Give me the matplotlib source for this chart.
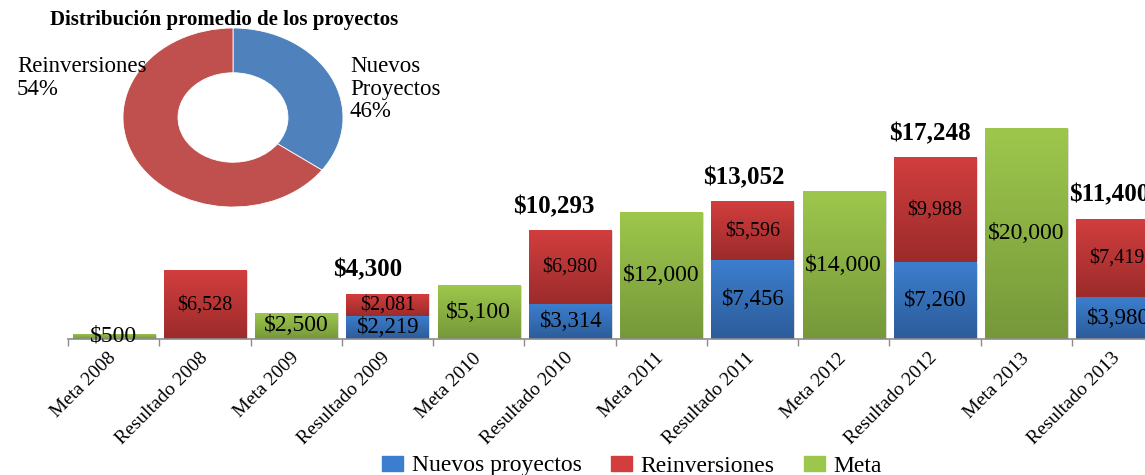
import matplotlib.pyplot as plt
import numpy as np
from matplotlib.colors import LinearSegmentedColormap
from matplotlib.patches import Rectangle

# categories and values
categories = ["Meta 2008", "Resultado 2008", "Meta 2009", "Resultado 2009",
              "Meta 2010", "Resultado 2010", "Meta 2011", "Resultado 2011",
              "Meta 2012", "Resultado 2012", "Meta 2013", "Resultado 2013"]
nuevos = [0, 0, 0, 2219, 0, 3314, 0, 7456, 0, 7260, 0, 3980]
reinversiones = [0, 6528, 0, 2081, 0, 6980, 0, 5596, 0, 9988, 0, 7419]
meta = [500, 0, 2500, 0, 5100, 0, 12000, 0, 14000, 0, 20000, 0]
totales = [None, None, None, 4300, None, 10293, None, 13052, None, 17248, None, 11400]

donut_names = ["Nuevos\nProyectos", "Reinversiones"]
donut_shares = [35, 65]          # drawn wedge sizes
donut_pct = ["46%", "54%"]       # printed labels

plt.rcParams['font.family'] = ['Liberation Serif', 'DejaVu Serif']

W, H = 1145, 475
fig = plt.figure(figsize=(W / 100, H / 100), dpi=100)

def px_axes(x0, y0, x1, y1):
    # pixel box (top-left origin) -> figure axes
    return fig.add_axes([x0 / W, 1 - y1 / H, (x1 - x0) / W, (y1 - y0) / H])

ymax = 22000
ax = px_axes(68, 339 - 0.01055 * ymax, 1163, 339)

grad = {
    'blue': ('#2C5C9A', '#3C7ECE'),
    'red': ('#9C2B2B', '#D23E3E'),
    'green': ('#76983A', '#9DC74C'),
}

x = np.arange(len(categories)) + 0.5
w = 0.9

def gradient_bars(bars, key):
    cmap = LinearSegmentedColormap.from_list(key, grad[key])
    img = np.linspace(0, 1, 64).reshape(-1, 1)
    for b in bars:
        if b.get_height() <= 0:
            continue
        bx, by = b.get_x(), b.get_y()
        bw, bh = b.get_width(), b.get_height()
        # soft shadow on the right
        ax.add_patch(Rectangle((bx + 0.02, by), bw, bh - 80, color='#dcdcdc',
                               zorder=1, lw=0))
        im = ax.imshow(img, cmap=cmap, origin='lower', aspect='auto',
                       extent=(bx, bx + bw, by, by + bh), zorder=2,
                       interpolation='bilinear')
        im.set_clip_path(b)

b_meta = ax.bar(x, meta, w, color=grad['green'][1], zorder=2, lw=0)
b_nue = ax.bar(x, nuevos, w, color=grad['blue'][1], zorder=2, lw=0)
b_rei = ax.bar(x, reinversiones, w, bottom=nuevos, color=grad['red'][1],
               zorder=2, lw=0)
gradient_bars(b_meta, 'green')
gradient_bars(b_nue, 'blue')
gradient_bars(b_rei, 'red')

for i in range(len(categories)):
    if meta[i]:
        ax.text(x[i], meta[i] / 2, f"${meta[i]:,}", ha='center', va='center',
                fontsize=17, zorder=5)
    if nuevos[i]:
        ax.text(x[i], nuevos[i] / 2, f"${nuevos[i]:,}", ha='center',
                va='center', fontsize=16.5, zorder=5)
    if reinversiones[i]:
        ax.text(x[i], nuevos[i] + reinversiones[i] / 2, f"${reinversiones[i]:,}",
                ha='center', va='center', fontsize=14.5, zorder=5)

# totals above the result bars (slightly left of centre as in original)
dx_px = [0, 0, 0, -20, 0, -16, 0, -9, 0, -5, 0, -8]
for i, t in enumerate(totales):
    if t is None:
        continue
    ax.annotate(f"${t:,}", (x[i], nuevos[i] + reinversiones[i]),
                xytext=(dx_px[i] * 0.72, 17), textcoords='offset points',
                ha='center', va='center', fontsize=18, fontweight='bold')

ax.set_xlim(0, len(categories))
ax.set_ylim(0, ymax)
for s in ['top', 'right', 'left']:
    ax.spines[s].set_visible(False)
ax.spines['bottom'].set_color('#8c8c8c')
ax.spines['bottom'].set_linewidth(1.2)
ax.set_yticks([])
ax.set_xticks(np.arange(len(categories) + 1))
ax.set_xticklabels([])
ax.tick_params(axis='x', length=5, color='#8c8c8c', width=1)
ax.set_xticks(x, minor=True)
ax.set_xticklabels(categories, minor=True, rotation=45, ha='right',
                   va='center', rotation_mode='anchor', fontsize=14)
ax.tick_params(axis='x', which='minor', length=0, pad=12)
ax.patch.set_visible(False)

# legend
handles = [Rectangle((0, 0), 1, 1, color=grad[k][1]) for k in ['blue', 'red', 'green']]
fig.legend(handles, ["Nuevos proyectos", "Reinversiones", "Meta"],
           loc='center', bbox_to_anchor=(632 / W, 1 - 466 / H), ncol=3,
           frameon=False, fontsize=17, handlelength=0.9, handleheight=0.6,
           handletextpad=0.35, columnspacing=1.25)

# donut
axd = px_axes(123, 28, 343, 207)
axd.pie(donut_shares, colors=['#4F81BD', '#C0504D'], startangle=90,
        counterclock=False, radius=1,
        wedgeprops=dict(width=0.5, edgecolor='white', linewidth=0.6))
axd.set_aspect('auto')
axd.set_xlim(-1, 1)
axd.set_ylim(-1, 1)

fig.text(50 / W, 1 - 20 / H, "Distribución promedio de los proyectos",
         fontsize=15, fontweight='bold', ha='left', va='center')
fig.text(17 / W, 1 - 56 / H, f"{donut_names[1]}\n{donut_pct[1]}",
         fontsize=16.5, ha='left', va='top', linespacing=1.1)
fig.text(350 / W, 1 - 56 / H, f"{donut_names[0]}\n{donut_pct[0]}",
         fontsize=16.5, ha='left', va='top', linespacing=1.1)

fig.savefig('out.png', dpi=100)
